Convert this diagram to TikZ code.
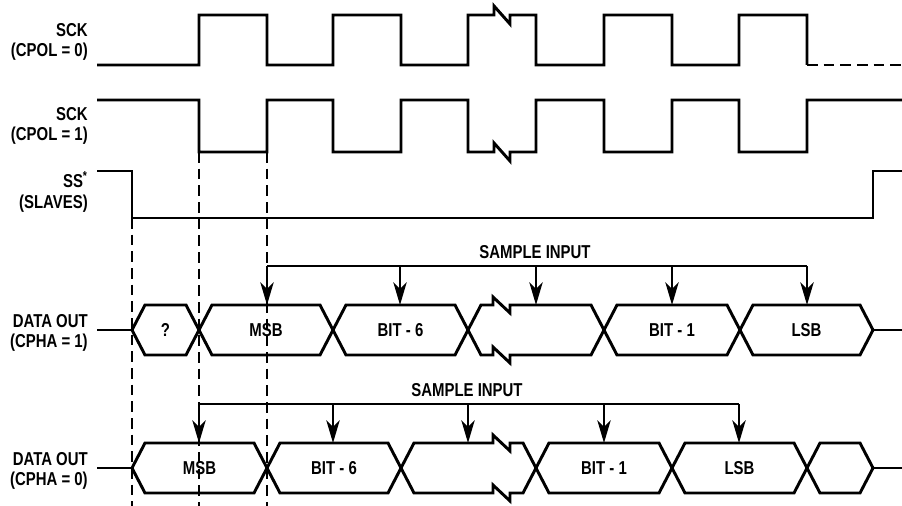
\documentclass[tikz,border=0pt]{standalone}
\usepackage{fontspec}
\setmainfont{Liberation Sans}[FakeStretch=0.8]
\usetikzlibrary{arrows.meta}
\tikzset{
  sig/.style={line width=2.2pt, line join=miter},
  guide/.style={line width=2.2pt, dash pattern=on 8pt off 4.5pt},
  lbl/.style={font=\bfseries\fontsize{14}{15.5}\selectfont, align=right, anchor=east, inner sep=0pt},
  txt/.style={font=\bfseries\fontsize{14}{15.5}\selectfont, inner sep=0pt},
  samp/.style={line width=1.7pt, -{Stealth[length=17pt, width=10pt, inset=5pt]}},
  bar/.style={line width=1.7pt}
}
\newcommand\hexcell[5]{%
  \draw[sig] (#1,#3) -- ({#1+13},{#3-25}) -- ({#2-13},{#3-25}) -- (#2,#3) -- ({#2-13},{#3+25}) -- ({#1+13},{#3+25}) -- cycle;
  \node[txt] (#4) at ({(#1+#2)/2},#3) {#5};}
\newcommand\breakcell[3]{%
  \draw[sig] (#1,#3) -- ({#1+13},{#3-25}) -- (493,{#3-25}) -- (493,{#3-33}) -- (510,{#3-17}) -- (510,{#3-25})
   -- ({#2-13},{#3-25}) -- (#2,#3) -- ({#2-13},{#3+25}) -- (510,{#3+25}) -- (510,{#3+33}) -- (493,{#3+17}) -- (493,{#3+25}) -- ({#1+13},{#3+25}) -- cycle;}
\begin{document}
\begin{tikzpicture}[x=0.75pt, y=-0.75pt]
\useasboundingbox[fill=white] (0,0) rectangle (902,506);
% labels
\node[lbl] (l1) at (88,42) {SCK\\(CPOL = 0)};
\node[lbl] (l2) at (88,126) {SCK\\(CPOL = 1)};
\node[lbl] (l3) at (88,192) {SS\textsuperscript{*}\\(SLAVES)};
\node[lbl] (l4) at (88,333) {DATA OUT\\(CPHA = 1)};
\node[lbl] (l5) at (88,471) {DATA OUT\\(CPHA = 0)};
% SCK CPOL=0
\draw[sig] (97,65) -- (199,65) -- (199,15) -- (267,15) -- (267,65) -- (333,65) -- (333,15) -- (401,15) -- (401,65)
  -- (468,65) -- (468,15) -- (494,15) -- (494,6) -- (510,24) -- (510,15) -- (536,15) -- (536,65) -- (604,65)
  -- (604,15) -- (672,15) -- (672,65) -- (739,65) -- (739,15) -- (807,15) -- (807,65);
\draw[guide] (807,65) -- (902,65);
% SCK CPOL=1
\draw[sig] (97,100) -- (199,100) -- (199,152) -- (267,152) -- (267,100) -- (333,100) -- (333,152) -- (401,152) -- (401,100)
  -- (468,100) -- (468,152) -- (494,152) -- (494,143) -- (510,161) -- (510,152) -- (536,152) -- (536,100) -- (604,100)
  -- (604,152) -- (672,152) -- (672,100) -- (739,100) -- (739,152) -- (807,152) -- (807,100) -- (902,100);
% SS*
\draw[sig] (97,171) -- (132,171) -- (132,218) -- (873,218) -- (873,171) -- (902,171);
% guides
\draw[guide] (132,218) -- (132,506);
\draw[guide] (199,152) -- (199,506);
\draw[guide] (267,152) -- (267,506);
% DATA OUT CPHA=1
\draw[sig] (97,330) -- (132,330);
\hexcell{132}{199}{330}{q1}{?}
\hexcell{199}{333}{330}{msb1}{MSB}
\hexcell{333}{468}{330}{b61}{BIT - 6}
\breakcell{468}{604}{330}
\hexcell{604}{740}{330}{b11}{BIT - 1}
\hexcell{740}{873}{330}{lsb1}{LSB}
\draw[sig] (873,330) -- (902,330);
% sample input CPHA=1
\node[txt] (s1) at (535,252) {SAMPLE INPUT};
\draw[bar] (267,266) -- (807,266);
\foreach \x in {267,400,536,672,807} \draw[samp] (\x,266) -- (\x,305);
% DATA OUT CPHA=0
\draw[sig] (97,468) -- (132,468);
\hexcell{132}{267}{468}{msb0}{MSB}
\hexcell{267}{401}{468}{b60}{BIT - 6}
\breakcell{401}{536}{468}
\hexcell{536}{672}{468}{b10}{BIT - 1}
\hexcell{672}{807}{468}{lsb0}{LSB}
\hexcell{807}{873}{468}{e0}{}
\draw[sig] (873,468) -- (902,468);
% sample input CPHA=0
\node[txt] (s0) at (467,390) {SAMPLE INPUT};
\draw[bar] (199,404) -- (739,404);
\foreach \x in {199,333,468,604,739} \draw[samp] (\x,404) -- (\x,443);
\end{tikzpicture}
\end{document}
